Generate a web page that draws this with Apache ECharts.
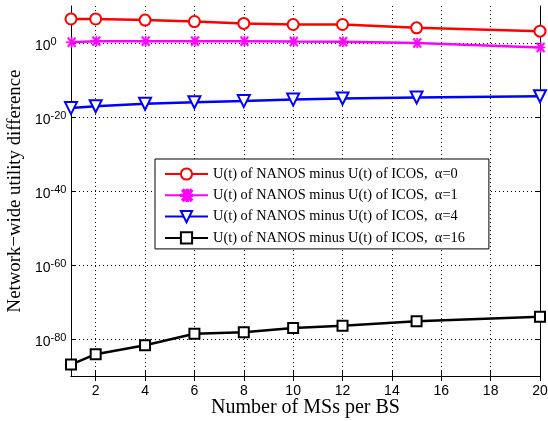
<!DOCTYPE html>
<html>
<head>
<meta charset="utf-8">
<script src="https://cdn.jsdelivr.net/npm/echarts@6/dist/echarts.min.js"></script>
<style>
  html, body { margin: 0; padding: 0; background: #fff; }
  #chart { width: 548px; height: 421px; }
</style>
</head>
<body>
<div id="chart"></div>
<script>
// Number of MSs per BS
const msPerBs = [1, 2, 4, 6, 8, 10, 12, 15, 20];

// Network-wide utility difference, stored as decimal exponents (value = 10^e)
const expAlpha0 = [6.5, 6.5, 6.2, 5.8, 5.3, 5.0, 5.0, 4.1, 3.2];
const expAlpha1 = [0.2, 0.5, 0.5, 0.5, 0.5, 0.4, 0.35, 0.0, -1.2];
const expAlpha4 = [-17.6, -17.1, -16.4, -16.0, -15.7, -15.3, -15.0, -14.7, -14.4];
const expAlpha16 = [-86.9, -84.1, -81.7, -78.6, -78.2, -77.0, -76.4, -75.2, -74.0];

const seriesNames = [
  'U(t) of NANOS minus U(t) of ICOS,  \u03b1=0',
  'U(t) of NANOS minus U(t) of ICOS,  \u03b1=1',
  'U(t) of NANOS minus U(t) of ICOS,  \u03b1=4',
  'U(t) of NANOS minus U(t) of ICOS,  \u03b1=16'
];

const xTicks = [2, 4, 6, 8, 10, 12, 14, 16, 18, 20];
const yTickExps = [-80, -60, -40, -20, 0];
const yTicks = yTickExps.map(e => Math.pow(10, e));

const pairs = exps => msPerBs.map((x, i) => [x, Math.pow(10, exps[i])]);

const serifFont = '"Liberation Serif", "Times New Roman", serif';
const sansFont = '"Liberation Sans", Arial, sans-serif';

const asterisk = 'path://M0,4 L8,4 L8,5 L0,5 Z M4,0 L5,0 L5,9 L4,9 Z M1,1 L2,0 L8,8 L7,9 Z M7,0 L8,1 L2,9 L1,8 Z';

const gridLine = { show: true, lineStyle: { color: '#000', width: 1, type: [1, 3] } };

function lineSeries(name, exps, color, symbol, size, extra) {
  return Object.assign({
    name: name,
    type: 'line',
    data: pairs(exps),
    symbol: symbol,
    symbolSize: size,
    showAllSymbol: true,
    lineStyle: { color: color, width: 2.5 },
    itemStyle: { color: '#fff', borderColor: color, borderWidth: 2 },
    emphasis: { disabled: true },
    z: 5
  }, extra || {});
}

const chart = echarts.init(document.getElementById('chart'), null, { renderer: 'canvas' });

chart.setOption({
  animation: false,
  backgroundColor: '#fff',
  grid: { left: 71, right: 8, top: 6, bottom: 45, containLabel: false, outerBoundsMode: 'none' },
  xAxis: [{
    type: 'value',
    min: 1, max: 20,
    name: 'Number of MSs per BS',
    nameLocation: 'middle',
    nameGap: 22,
    nameMoveOverlap: false,
    nameTextStyle: { fontFamily: serifFont, fontSize: 20, color: '#000' },
    axisLine: { lineStyle: { color: '#000', width: 1 } },
    axisTick: { inside: true, length: 5, customValues: xTicks, lineStyle: { color: '#000' } },
    axisLabel: { customValues: xTicks, fontFamily: sansFont, fontSize: 14, color: '#000', margin: 8 },
    splitLine: gridLine
  }, {
    type: 'value',
    min: 1, max: 20,
    position: 'top',
    axisLine: { lineStyle: { color: '#000', width: 1 } },
    axisTick: { inside: true, length: 5, customValues: xTicks, lineStyle: { color: '#000' } },
    axisLabel: { show: false },
    splitLine: { show: false }
  }],
  yAxis: [{
    type: 'log',
    logBase: 10,
    min: 1e-90, max: 1e10,
    name: 'Network\u2212wide utility difference',
    nameLocation: 'middle',
    nameGap: 46,
    nameMoveOverlap: false,
    nameTextStyle: { fontFamily: serifFont, fontSize: 18.8, color: '#000' },
    axisLine: { lineStyle: { color: '#000', width: 1 } },
    axisTick: { inside: true, length: 5, customValues: yTicks, lineStyle: { color: '#000' } },
    axisLabel: {
      customValues: yTicks,
      align: 'left',
      margin: 36,
      color: '#000',
      padding: [6, 0, 0, 0],
      formatter: v => '{b|10}{s|' + Math.round(Math.log10(v)) + '}',
      rich: {
        b: { fontFamily: sansFont, fontSize: 14, color: '#000' },
        s: { fontFamily: sansFont, fontSize: 11, color: '#000', padding: [0, 0, 9, 0] }
      }
    },
    splitLine: gridLine
  }, {
    type: 'log',
    logBase: 10,
    min: 1e-90, max: 1e10,
    position: 'right',
    axisLine: { lineStyle: { color: '#000', width: 1 } },
    axisTick: { inside: true, length: 5, customValues: yTicks, lineStyle: { color: '#000' } },
    axisLabel: { show: false },
    splitLine: { show: false }
  }],
  legend: {
    orient: 'vertical',
    left: 155, top: 159,
    padding: [8, 24, 4, 9],
    itemWidth: 43, itemHeight: 14, itemGap: 7.3,
    backgroundColor: '#fff',
    borderColor: '#000', borderWidth: 1,
    textStyle: { fontFamily: serifFont, fontSize: 14.4, color: '#000' },
    data: seriesNames
  },
  series: [
    lineSeries(seriesNames[0], expAlpha0, '#ff0000', 'circle', 11),
    lineSeries(seriesNames[1], expAlpha1, '#ff00ff', asterisk, 10, { itemStyle: { color: '#ff00ff', borderColor: '#ff00ff', borderWidth: 0.5 } }),
    lineSeries(seriesNames[2], expAlpha4, '#0000ff', 'triangle', 12, { symbolRotate: 180 }),
    lineSeries(seriesNames[3], expAlpha16, '#000000', 'rect', 10)
  ]
});
</script>
</body>
</html>
